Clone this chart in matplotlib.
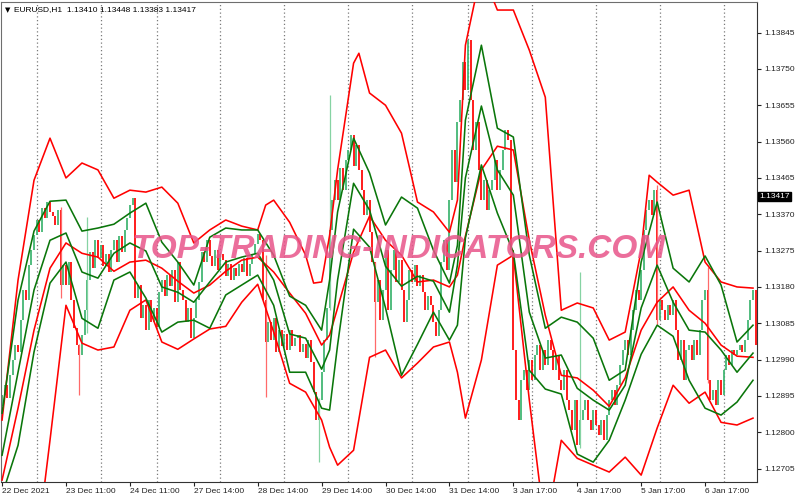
import matplotlib
matplotlib.use("Agg")
import matplotlib.pyplot as plt
import numpy as np

# ---------------- data (EURUSD H1) ----------------
first_open = 1.12870
close = [
    1.12897, 1.12923, 1.12889, 1.12949,
    1.12989, 1.13028, 1.13009,
    1.13093, 1.13172, 1.13146, 1.13237, 1.13276, 1.13315,
    1.13355, 1.13323, 1.13386, 1.13360, 1.13402, 1.13376,
    1.13365, 1.13342, 1.13381,
    1.13185,
    1.13237, 1.13185, 1.13245,
    1.13146, 1.13072, 1.13028, 1.13002,
    1.13054, 1.13119,
    1.13198, 1.13271, 1.13229, 1.13302,
    1.13255, 1.13289,
    1.13234, 1.13266, 1.13219,
    1.13276, 1.13302, 1.13245, 1.13313, 1.13271, 1.13329, 1.13360,
    1.13394, 1.13412,
    1.13151,
    1.13185, 1.13098, 1.13132, 1.13067, 1.13146,
    1.13088, 1.13125, 1.13075,
    1.13166, 1.13198, 1.13156, 1.13211,
    1.13182, 1.13224, 1.13140, 1.13245, 1.13172,
    1.13146, 1.13088, 1.13125, 1.13046, 1.13098, 1.13146,
    1.13193, 1.13271, 1.13245, 1.13302, 1.13261,
    1.13234, 1.13276, 1.13224, 1.13266, 1.13250, 1.13208,
    1.13240, 1.13198, 1.13229, 1.13208,
    1.13240, 1.13219, 1.13255, 1.13208, 1.13240,
    1.13266, 1.13292, 1.13318, 1.13302,
    1.13146, 1.13036, 1.13088,
    1.13041, 1.13098, 1.13009, 1.13067, 1.13025,
    1.13057, 1.13015, 1.13067, 1.13025, 1.13046,
    1.13054, 1.13009, 1.13030, 1.12994, 1.13041, 1.12983,
    1.12905, 1.12832, 1.12884,
    1.12957, 1.13041, 1.13125,
    1.13329, 1.13407,
    1.13459, 1.13407, 1.13491, 1.13433, 1.13512,
    1.13538, 1.13577, 1.13496, 1.13551,
    1.13485, 1.13433, 1.13368, 1.13407, 1.13323,
    1.13245, 1.13140, 1.13198, 1.13093,
    1.13172, 1.13276, 1.13119, 1.13224,
    1.13276, 1.13193, 1.13250,
    1.13172, 1.13088, 1.13146, 1.13224,
    1.13193, 1.13237, 1.13182, 1.13211,
    1.13166, 1.13119, 1.13156, 1.13132,
    1.13088, 1.13051, 1.13119,
    1.13245, 1.13302, 1.13224,
    1.13407, 1.13538, 1.13454, 1.13611, 1.13669,
    1.13768, 1.13695, 1.13825,
    1.13669, 1.13538, 1.13611,
    1.13485, 1.13407, 1.13459, 1.13381, 1.13433,
    1.13459, 1.13512, 1.13433, 1.13485, 1.13538,
    1.13590, 1.13564,
    1.13276, 1.13015, 1.12884,
    1.12832, 1.12936,
    1.12963, 1.12910, 1.12989, 1.12936, 1.13002,
    1.13028, 1.12963, 1.13015, 1.12975, 1.13041,
    1.13015, 1.12963, 1.13002, 1.12936,
    1.12910, 1.12963, 1.12884, 1.12858,
    1.12806, 1.12884, 1.12766, 1.12832, 1.12858,
    1.12884, 1.12832, 1.12806, 1.12858, 1.12819,
    1.12792, 1.12832, 1.12779, 1.12845,
    1.12884, 1.12910, 1.12871, 1.12923,
    1.12975, 1.13015, 1.13041, 1.13002, 1.13067,
    1.13119, 1.13172, 1.13146, 1.13224,
    1.13329, 1.13381, 1.13407, 1.13368,
    1.13433, 1.13093, 1.13146,
    1.13119, 1.13093, 1.13132, 1.13106, 1.13146,
    1.13067, 1.12989, 1.13041, 1.12936, 1.13015,
    1.13028, 1.12989, 1.13041, 1.13002, 1.13067,
    1.13146, 1.13172,
    1.12936, 1.12884,
    1.12910, 1.12871, 1.12936, 1.12897,
    1.12963, 1.13002, 1.12975, 1.13015,
    1.13002, 1.13015, 1.13028, 1.13009, 1.13041,
    1.13093, 1.13146, 1.13172, 1.13028,
]

# notable wicks: bar index, high, low
spike_bar = [22, 29, 32, 99, 119, 123, 140, 217, 246, 265]
spike_hi = [1.13390, 1.13030, 1.13363, 1.13263, 1.12890, 1.13682, 1.13245, 1.13219, 1.13446, 1.13232]
spike_lo = [1.13150, 1.12897, 1.13059, 1.12892, 1.12722, 1.13120, 1.12996, 1.12760, 1.13080, 1.12930]

# indicator lines: sampled every 6 bars, plus extra readings at turning points
line_bars = list(range(0, 283, 6))
red_upper = [1.12832, 1.13198, 1.13459, 1.13569, 1.13465, 1.13504, 1.13486, 1.13412,
             1.13433, 1.13428, 1.13441, 1.13399, 1.13295, 1.13329, 1.13355, 1.13339,
             1.13329, 1.13407, 1.13349, 1.13263, 1.13193, 1.13486, 1.13765, 1.13687,
             1.13655, 1.13582, 1.13402, 1.13376, 1.13323, 1.13812, 1.14008, 1.13904,
             1.13904, 1.13799, 1.13676, 1.13119, 1.13138, 1.13125, 1.13041, 1.13062,
             1.13276, 1.13454, 1.13420, 1.13433, 1.13245, 1.13193, 1.13180, 1.13177]
red_upper_xb = [99, 117, 123, 134, 171, 243]
red_upper_x = [1.13394, 1.13190, 1.13315, 1.13791, 1.13407, 1.13472]

red_mid = [1.12675, 1.12863, 1.13067, 1.13229, 1.13295, 1.13268, 1.13258, 1.13221,
           1.13245, 1.13250, 1.13229, 1.13195, 1.13164, 1.13185, 1.13221, 1.13250,
           1.13258, 1.13219, 1.13164, 1.13111, 1.13028, 1.13125, 1.13271, 1.13365,
           1.13302, 1.13263, 1.13193, 1.13198, 1.13180, 1.13313, 1.13486, 1.13548,
           1.13538, 1.13302, 1.13106, 1.12949, 1.12942, 1.12910, 1.12868, 1.12942,
           1.13067, 1.13140, 1.13180, 1.13119, 1.13085, 1.13028, 1.12999, 1.12996]
red_mid_xb = [123, 171]
red_mid_x = [1.13054, 1.13211]

red_lower = [1.12100, 1.12256, 1.12439, 1.12779, 1.13132, 1.13033, 1.13015, 1.13023,
             1.13119, 1.13146, 1.13036, 1.13017, 1.13044, 1.13070, 1.13077, 1.13140,
             1.13187, 1.13062, 1.12928, 1.12905, 1.12832, 1.12714, 1.12753, 1.12996,
             1.13015, 1.12942, 1.12981, 1.13023, 1.13036, 1.12837, 1.12989, 1.13237,
             1.13263, 1.12884, 1.12544, 1.12779, 1.12732, 1.12714, 1.12696, 1.12735,
             1.12688, 1.12811, 1.12923, 1.12876, 1.12905, 1.12826, 1.12819, 1.12837]
red_lower_xb = [123, 171]
red_lower_x = [1.12761, 1.12957]

green_upper = [1.12850, 1.13146, 1.13326, 1.13404, 1.13407, 1.13326, 1.13334, 1.13344,
               1.13373, 1.13399, 1.13297, 1.13245, 1.13185, 1.13310, 1.13334, 1.13329,
               1.13329, 1.13263, 1.13156, 1.13132, 1.13067, 1.13376, 1.13569, 1.13478,
               1.13342, 1.13415, 1.13386, 1.13276, 1.13190, 1.13616, 1.13812, 1.13595,
               1.13572, 1.13263, 1.13072, 1.13101, 1.13088, 1.13046, 1.12936, 1.12963,
               1.13245, 1.13402, 1.13229, 1.13193, 1.13261, 1.13185, 1.13036, 1.13080]
green_upper_xb = [123, 171]
green_upper_x = [1.13198, 1.13289]

green_mid = [1.12740, 1.12957, 1.13172, 1.13302, 1.13321, 1.13219, 1.13203, 1.13268,
             1.13295, 1.13274, 1.13180, 1.13166, 1.13140, 1.13193, 1.13245, 1.13258,
             1.13268, 1.13198, 1.13057, 1.13046, 1.12965, 1.13198, 1.13451, 1.13381,
             1.13234, 1.13182, 1.13208, 1.13195, 1.13114, 1.13465, 1.13653, 1.13486,
             1.13420, 1.13114, 1.12994, 1.13002, 1.12915, 1.12884, 1.12858, 1.12923,
             1.13125, 1.13237, 1.13140, 1.13067, 1.13062, 1.13015, 1.12957, 1.13007]
green_mid_xb = [123, 171]
green_mid_x = [1.13015, 1.13237]

green_lower = [1.12636, 1.12766, 1.13010, 1.13190, 1.13245, 1.13098, 1.13072, 1.13198,
               1.13219, 1.13151, 1.13062, 1.13088, 1.13093, 1.13072, 1.13159, 1.13185,
               1.13211, 1.13132, 1.12957, 1.12957, 1.12863, 1.13028, 1.13331, 1.13284,
               1.13125, 1.12949, 1.13030, 1.13114, 1.13041, 1.13308, 1.13499, 1.13373,
               1.13271, 1.12962, 1.12913, 1.12900, 1.12743, 1.12722, 1.12779, 1.12884,
               1.13004, 1.13080, 1.13051, 1.12936, 1.12863, 1.12845, 1.12879, 1.12936]
green_lower_xb = [123, 171]
green_lower_x = [1.12858, 1.13080]

tick_bars = [0, 24, 48, 72, 96, 120, 144, 168, 192, 216, 240, 264]
tick_labels = ["22 Dec 2021", "23 Dec 11:00", "24 Dec 11:00", "27 Dec 14:00",
               "28 Dec 14:00", "29 Dec 14:00", "30 Dec 14:00", "31 Dec 14:00",
               "3 Jan 17:00", "4 Jan 17:00", "5 Jan 17:00", "6 Jan 17:00"]
day_bars = [13, 37, 58, 82, 106, 130, 154, 175, 199, 223, 247, 271]
price_ticks = [1.12705, 1.12800, 1.12895, 1.12990, 1.13085, 1.13180, 1.13275,
               1.13370, 1.13465, 1.13560, 1.13655, 1.13750, 1.13845]
last_price = 1.13417
title = "EURUSD,H1  1.13410 1.13448 1.13383 1.13417"
watermark = "TOP-TRADING-INDICATORS.COM"


def merged(base_vals, extra_bars, extra_vals):
    pts = sorted(list(zip(line_bars, base_vals)) + list(zip(extra_bars, extra_vals)))
    return [p[0] for p in pts], [p[1] for p in pts]


# ---------------- figure ----------------
plt.rcParams["font.family"] = ["Liberation Sans", "DejaVu Sans"]
fig = plt.figure(figsize=(8, 5), dpi=100)
ax = fig.add_axes([1 / 800, 18 / 500, 756 / 800, 480 / 500])
ax.set_xlim(-0.4, 283.5)
ax.set_ylim(1.12670, 1.13925)

# day separators
for b in day_bars:
    ax.axvline(b, color="#7a7a7a", lw=0.9, ls=(0, (1, 2)), zorder=1)

# candles
n = len(close)
opens = [first_open] + close[:-1]
idx = np.arange(n)
c = np.array(close)
o = np.array(opens)
up = c >= o
ax.vlines(idx[up], o[up], c[up], color="#3cb46e", lw=1.25, zorder=2)
ax.vlines(idx[~up], c[~up], o[~up], color="#ff0000", lw=1.25, zorder=2)
for b, h, l in zip(spike_bar, spike_hi, spike_lo):
    col = "#86d3a3" if close[b] >= opens[b] else "#ff6a6a"
    ax.vlines(b, l, h, color=col, lw=0.9, zorder=2)

# indicator lines
red = "#ff0000"
grn = "#0a760a"
for vals, xb, xv in ((red_upper, red_upper_xb, red_upper_x),
                     (red_mid, red_mid_xb, red_mid_x),
                     (red_lower, red_lower_xb, red_lower_x)):
    bx, by = merged(vals, xb, xv)
    ax.plot(bx, by, color=red, lw=1.15, zorder=4)
for vals, xb, xv in ((green_upper, green_upper_xb, green_upper_x),
                     (green_mid, green_mid_xb, green_mid_x),
                     (green_lower, green_lower_xb, green_lower_x)):
    bx, by = merged(vals, xb, xv)
    ax.plot(bx, by, color=grn, lw=1.15, zorder=4)

# axes styling
for side in ("left", "top"):
    ax.spines[side].set_color("#6e6e6e")
for side in ("right", "bottom"):
    ax.spines[side].set_color("#333333")
ax.yaxis.tick_right()
ax.set_yticks(price_ticks)
ax.set_yticklabels([f"{p:.5f}" for p in price_ticks])
ax.tick_params(axis="y", length=3, width=0.8, pad=2, labelsize=6, colors="#222222")
ax.set_xticks(tick_bars)
ax.set_xticklabels(tick_labels)
ax.tick_params(axis="x", length=3, width=0.8, pad=1.5, labelsize=6, colors="#222222")
for lab in ax.get_xticklabels():
    lab.set_ha("left")

# current price label
ax.text(1.003, last_price, "1.13417", transform=ax.get_yaxis_transform(),
        color="white", fontsize=6, va="center", ha="left", zorder=10,
        bbox=dict(boxstyle="square,pad=0.15", fc="black", ec="black"))

# title
fig.text(5 / 800, 1 - 10 / 500, "\u25bc", fontsize=5, va="center", ha="left",
         family=["DejaVu Sans"])
fig.text(14 / 800, 1 - 10 / 500, title, fontsize=6, va="center", ha="left")

# watermark
fig.text(399 / 800, 1 - 250 / 500, watermark, fontsize=24, fontweight="bold",
         fontstyle="italic", color="#e8558a", alpha=0.85, ha="center", va="center",
         zorder=20)

fig.savefig("out.png", dpi=100)
